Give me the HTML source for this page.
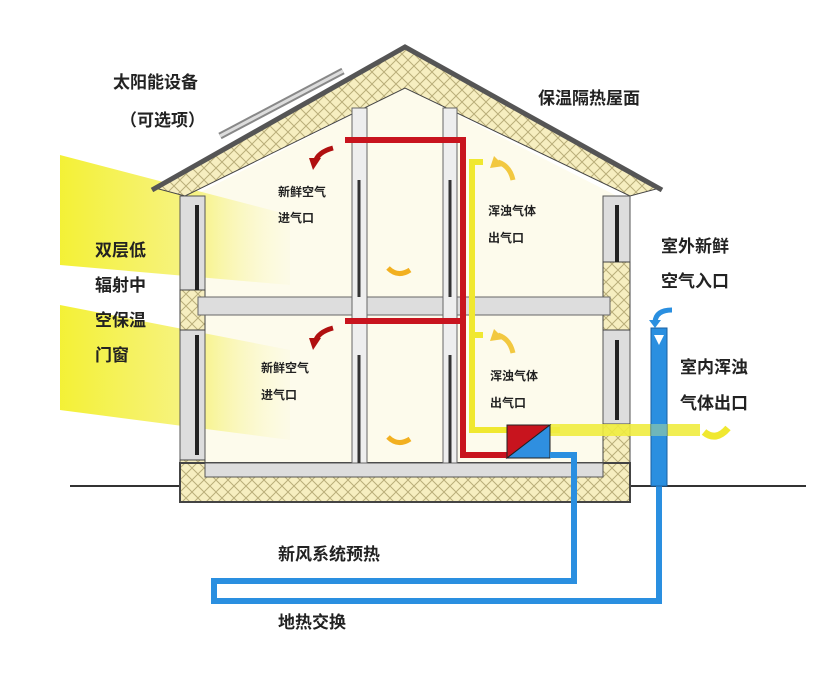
<!DOCTYPE html>
<html><head><meta charset="utf-8"><style>
body{margin:0;background:#fff;}
svg{display:block}
text{font-family:"Liberation Sans","Noto Sans CJK SC",sans-serif;font-weight:bold;fill:#222}
</style></head><body>
<svg width="820" height="673" viewBox="0 0 820 673" xmlns="http://www.w3.org/2000/svg">
<defs>
<pattern id="ins" width="12" height="12" patternUnits="userSpaceOnUse">
<rect width="12" height="12" fill="#f6eec0"/>
<path d="M0 0L12 12M12 0L0 12" stroke="#b9ae7a" stroke-width="1"/>
</pattern>
<linearGradient id="beam" x1="0" x2="1" y1="0" y2="0">
<stop offset="0" stop-color="#f2ef20"/><stop offset="0.6" stop-color="#f6f27a"/><stop offset="1" stop-color="#fbf9d8" stop-opacity="0.3"/>
</linearGradient>
</defs>
<rect width="820" height="673" fill="#fff"/>
<polygon points="195,195 405,88 615,195 615,470 195,470" fill="#fdfbec"/>
<polygon points="60,155 290,215 290,285 60,265" fill="url(#beam)" opacity="0.9"/>
<polygon points="60,305 290,350 290,440 60,410" fill="url(#beam)" opacity="0.9"/>
<line x1="70" y1="486" x2="806" y2="486" stroke="#333" stroke-width="2"/>
<polygon points="155,188 405,48 660,188 630,196 405,88 185,196" fill="url(#ins)" stroke="#444" stroke-width="1"/>
<polyline points="152,190 405,47 662,190" fill="none" stroke="#555" stroke-width="5"/>
<line x1="220" y1="136" x2="343" y2="71" stroke="#888" stroke-width="7"/>
<line x1="220" y1="136" x2="343" y2="71" stroke="#ddd" stroke-width="3"/>
<rect x="180" y="196" width="25" height="300" fill="#ddd" stroke="#555"/>
<rect x="603" y="196" width="27" height="300" fill="#ddd" stroke="#555"/>
<rect x="180" y="290" width="25" height="40" fill="url(#ins)" stroke="#444"/>
<rect x="603" y="262" width="27" height="68" fill="url(#ins)" stroke="#444"/>
<rect x="603" y="424" width="27" height="75" fill="url(#ins)" stroke="#444"/>
<rect x="180" y="460" width="25" height="40" fill="url(#ins)" stroke="#444"/>
<line x1="197" y1="205" x2="197" y2="290" stroke="#222" stroke-width="4"/>
<line x1="197" y1="335" x2="197" y2="455" stroke="#222" stroke-width="4"/>
<line x1="617" y1="205" x2="617" y2="262" stroke="#222" stroke-width="4"/>
<line x1="617" y1="340" x2="617" y2="420" stroke="#222" stroke-width="4"/>
<polygon points="180,463 630,463 630,502 180,502" fill="url(#ins)" stroke="#444" stroke-width="2"/>
<rect x="205" y="463" width="398" height="14" fill="#ddd" stroke="#555"/>
<rect x="198" y="297" width="412" height="18" fill="#ddd" stroke="#666"/>
<rect x="352" y="108" width="15" height="355" fill="#eee" stroke="#666"/>
<rect x="443" y="108" width="14" height="355" fill="#eee" stroke="#666"/>
<line x1="359" y1="180" x2="359" y2="297" stroke="#333" stroke-width="3"/>
<line x1="359" y1="355" x2="359" y2="463" stroke="#333" stroke-width="3"/>
<line x1="450" y1="180" x2="450" y2="297" stroke="#333" stroke-width="3"/>
<line x1="450" y1="355" x2="450" y2="463" stroke="#333" stroke-width="3"/>
<polyline points="483,162 472,162 472,430 560,430" fill="none" stroke="#f0e830" stroke-width="6"/>
<polyline points="483,335 472,335" fill="none" stroke="#f0e830" stroke-width="6"/>
<rect x="550" y="424" width="150" height="12" fill="#f0ec40" opacity="0.9"/>
<polyline points="345,140 463,140 463,455 508,455" fill="none" stroke="#c8141e" stroke-width="6"/>
<line x1="345" y1="321" x2="463" y2="321" stroke="#c8141e" stroke-width="6"/>
<polygon points="507,425 550,425 507,458" fill="#c8141e" stroke="#222"/>
<polygon points="550,425 550,458 507,458" fill="#2f8fe0" stroke="#222"/>
<polyline points="550,455 574,455 574,581 214,581 214,601 659,601 659,480" fill="none" stroke="#2a8fe0" stroke-width="6"/>
<rect x="651" y="328" width="16" height="158" fill="#2a8fe0" stroke="#1a5fa0"/>
<rect x="651" y="424" width="16" height="12" fill="#9fd0a0" opacity="0.6"/>
<polygon points="654,335 664,335 659,345" fill="#fff"/>
<path d="M672,310 Q656,310 655,322" fill="none" stroke="#2a8fe0" stroke-width="5"/>
<polygon points="649,320 661,320 655,328" fill="#2a8fe0"/>
<path d="M333,148 Q318,152 315,162" fill="none" stroke="#b01010" stroke-width="5"/>
<polygon points="309,158 321,158 313,170" fill="#b01010"/>
<path d="M333,328 Q318,332 315,342" fill="none" stroke="#b01010" stroke-width="5"/>
<polygon points="309,338 321,338 313,350" fill="#b01010"/>
<path d="M513,180 Q510,166 498,162" fill="none" stroke="#f2c840" stroke-width="5"/>
<polygon points="494,156 504,166 490,168" fill="#f2c840"/>
<path d="M513,353 Q510,339 498,335" fill="none" stroke="#f2c840" stroke-width="5"/>
<polygon points="494,329 504,339 490,341" fill="#f2c840"/>
<path d="M388,268 Q398,278 410,270" fill="none" stroke="#f2b020" stroke-width="5"/>
<path d="M388,437 Q398,447 410,439" fill="none" stroke="#f2b020" stroke-width="5"/>
<path d="M704,432 Q716,442 728,428" fill="none" stroke="#f0e830" stroke-width="7"/>
<text x="113" y="88" font-size="17">太阳能设备</text>
<text x="120" y="126" font-size="17">（可选项）</text>
<text x="538" y="104" font-size="17">保温隔热屋面</text>
<text x="278" y="196" font-size="12">新鲜空气</text>
<text x="278" y="222" font-size="12">进气口</text>
<text x="488" y="215" font-size="12">浑浊气体</text>
<text x="488" y="242" font-size="12">出气口</text>
<text x="261" y="372" font-size="12">新鲜空气</text>
<text x="261" y="399" font-size="12">进气口</text>
<text x="490" y="380" font-size="12">浑浊气体</text>
<text x="490" y="407" font-size="12">出气口</text>
<text x="95" y="256" font-size="17">双层低</text>
<text x="95" y="291" font-size="17">辐射中</text>
<text x="95" y="326" font-size="17">空保温</text>
<text x="95" y="361" font-size="17">门窗</text>
<text x="661" y="252" font-size="17">室外新鲜</text>
<text x="661" y="287" font-size="17">空气入口</text>
<text x="680" y="373" font-size="17">室内浑浊</text>
<text x="680" y="409" font-size="17">气体出口</text>
<text x="278" y="560" font-size="17">新风系统预热</text>
<text x="278" y="628" font-size="17">地热交换</text>
</svg>
</body></html>
